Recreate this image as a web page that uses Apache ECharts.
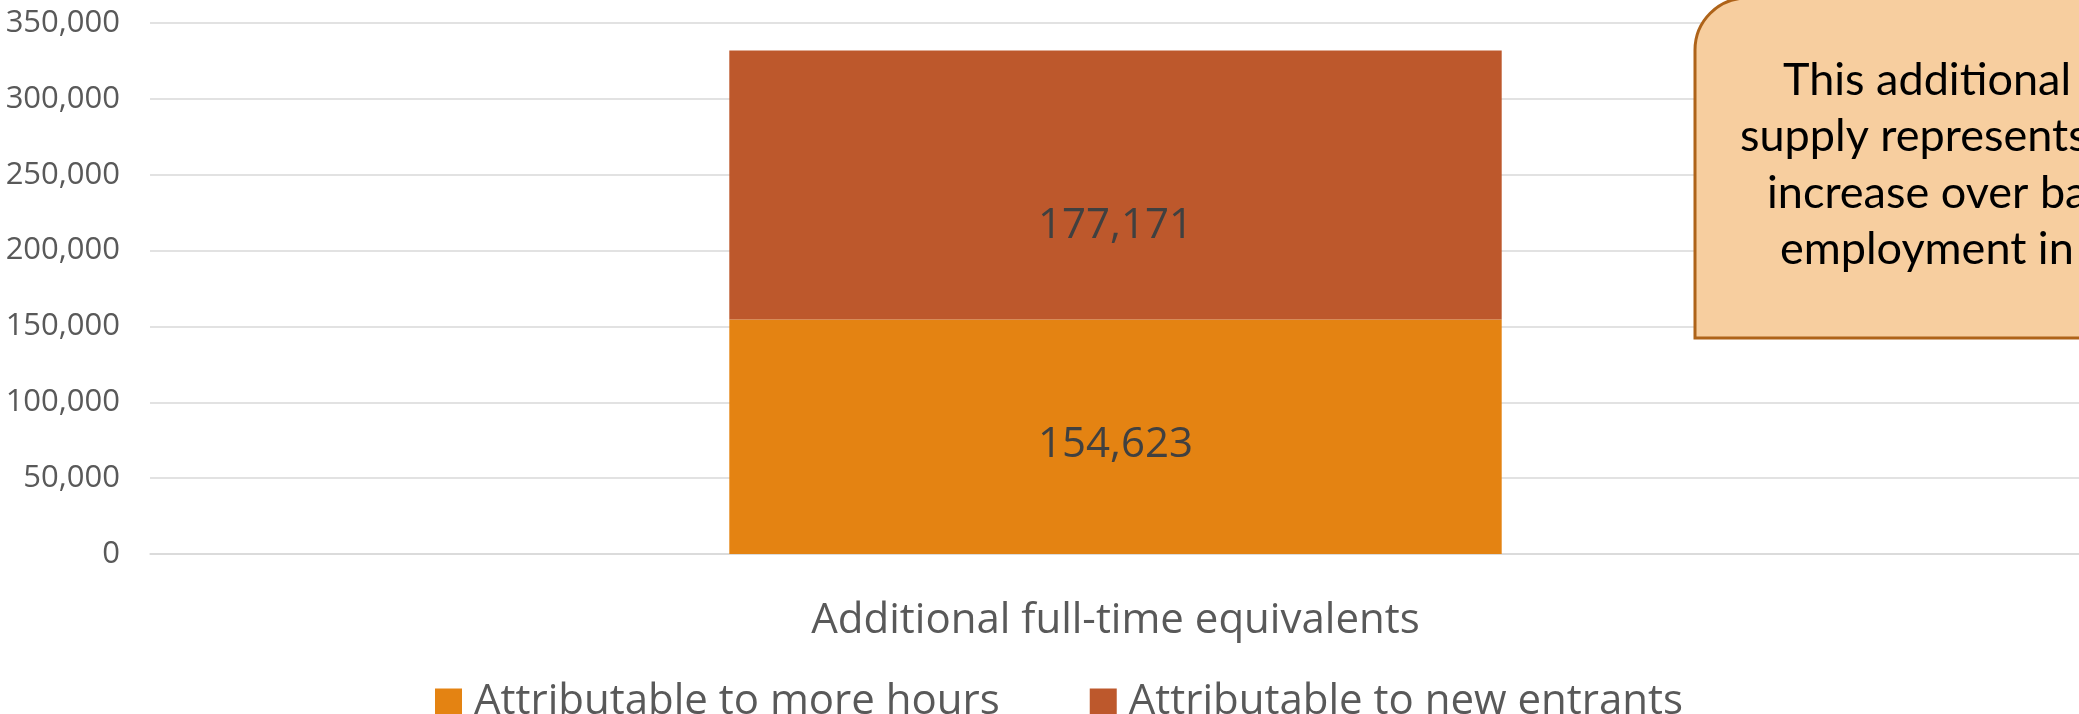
<!DOCTYPE html>
<html>
<head>
<meta charset="utf-8">
<script src="https://cdn.jsdelivr.net/npm/echarts@6/dist/echarts.min.js"></script>
<style>
  html, body { margin: 0; padding: 0; background: #fff; }
  #chart { width: 2079px; height: 714px; }
</style>
</head>
<body>
<div id="chart"></div>
<script>
// data
const categories = ['Additional full-time equivalents'];
const seriesNames = ['Attributable to more hours', 'Attributable to new entrants'];
const moreHours = [154623];
const newEntrants = [177171];
const yMin = 0;
const yMax = 350000;
const yStep = 50000;
const calloutLines = ['This additional', 'supply represents', 'increase over ba', 'employment in'];

const colors = ['#E48312', '#BD582C'];
const font = '"Open Sans", sans-serif';

const chart = echarts.init(document.getElementById('chart'));

// callout box on the right, cut off by the edge
const calloutX = [1783, 1740, 1767, 1780];
const calloutY = [80, 136, 193, 249];
const graphics = [{
    type: 'rect',
    shape: { x: 1695, y: -2, width: 600, height: 340, r: [52, 52, 0, 0] },
    style: { fill: '#F7CE9F', stroke: '#AE6319', lineWidth: 3 },
    z: 10
}];
calloutLines.forEach((t, i) => {
    graphics.push({
        type: 'text',
        x: calloutX[i],
        y: calloutY[i],
        style: {
            text: t,
            fill: '#000',
            font: '45px Lato, sans-serif',
            verticalAlign: 'middle',
            align: 'left'
        },
        z: 11
    });
});

const option = {
    animation: false,
    color: colors,
    grid: {
        left: 150,
        top: 23,
        width: 1931,
        height: 531,
        outerBoundsMode: 'none'
    },
    legend: {
        left: 430,
        top: 676,
        itemWidth: 27,
        itemHeight: 27,
        itemGap: 90,
        icon: 'rect',
        textStyle: {
            fontFamily: font,
            fontSize: 42,
            color: '#595959',
            padding: [0, 0, 0, 7]
        },
        data: seriesNames
    },
    xAxis: {
        type: 'category',
        data: categories,
        axisLine: { lineStyle: { color: '#D9D9D9', width: 1.5 } },
        axisTick: { show: false },
        axisLabel: {
            margin: 46,
            fontFamily: font,
            fontSize: 42,
            color: '#595959'
        }
    },
    yAxis: {
        type: 'value',
        min: yMin,
        max: yMax,
        interval: yStep,
        axisLine: { show: false },
        axisTick: { show: false },
        splitLine: { lineStyle: { color: '#D9D9D9', width: 1.5 } },
        axisLabel: {
            margin: 30,
            fontFamily: font,
            fontSize: 31,
            color: '#595959',
            formatter: v => v.toLocaleString('en-US')
        }
    },
    series: [
        {
            name: seriesNames[0],
            type: 'bar',
            stack: 'fte',
            barWidth: '40%',
            data: moreHours,
            label: {
                show: true,
                position: 'inside',
                offset: [0, 8],
                fontFamily: font,
                fontSize: 42,
                color: '#404040',
                formatter: p => p.value.toLocaleString('en-US')
            }
        },
        {
            name: seriesNames[1],
            type: 'bar',
            stack: 'fte',
            barWidth: '40%',
            data: newEntrants,
            label: {
                show: true,
                position: 'inside',
                offset: [0, 41],
                fontFamily: font,
                fontSize: 42,
                color: '#404040',
                formatter: p => p.value.toLocaleString('en-US')
            }
        }
    ],
    graphic: graphics
};

chart.setOption(option);
</script>
</body>
</html>
